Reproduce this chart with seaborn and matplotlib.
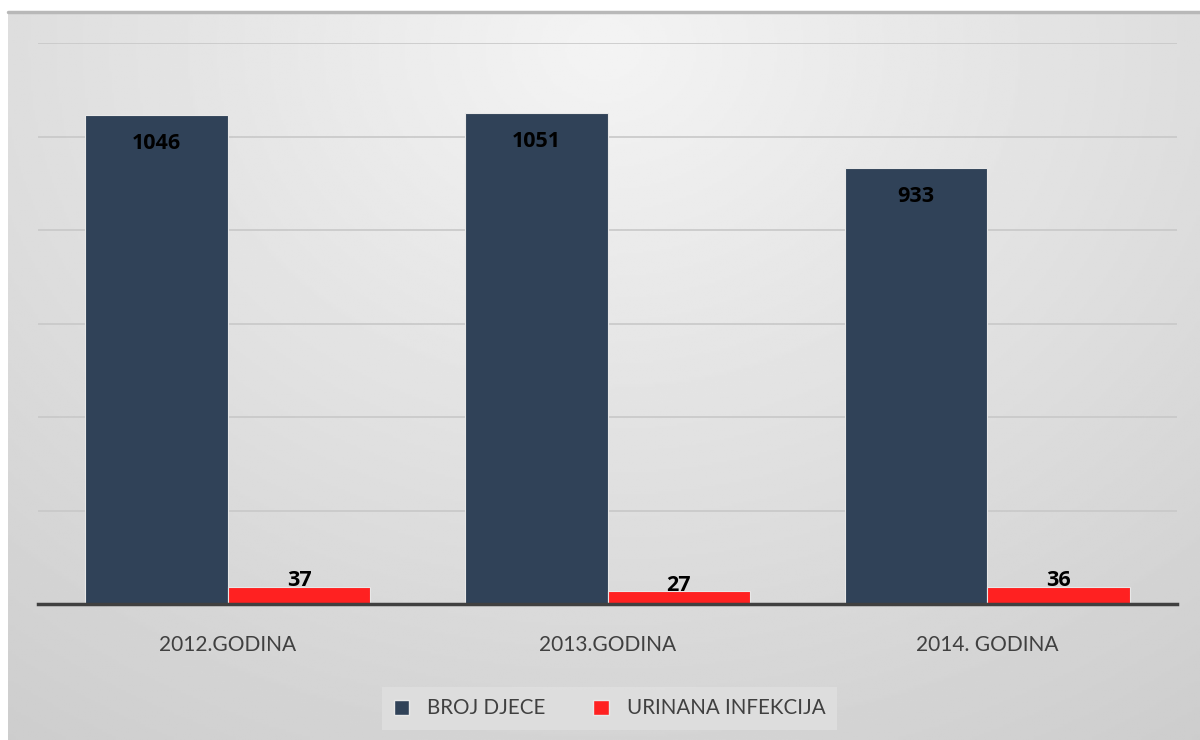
import numpy as np
import pandas as pd
import seaborn as sns
import matplotlib.pyplot as plt
from matplotlib.patches import Patch

categories = ["2012.GODINA", "2013.GODINA", "2014. GODINA"]
series = ["BROJ DJECE", "URINANA INFEKCIJA"]
broj_djece = [1046, 1051, 933]
urinana_infekcija = [37, 27, 36]

df = pd.DataFrame({
    "godina": categories * 2,
    "serija": [series[0]] * 3 + [series[1]] * 3,
    "vrijednost": broj_djece + urinana_infekcija,
})

colors = {series[0]: "#304258", series[1]: "#ff2121"}

sns.set_theme(style="white")
plt.rcParams["font.family"] = ["Lato", "DejaVu Sans"]

fig = plt.figure(figsize=(12, 7.4), dpi=100)
fig.patch.set_facecolor("white")

# radial grey gradient background
bg = fig.add_axes([8 / 1200, 0, 1 - 8 / 1200, (740 - 12) / 740], zorder=-10)
yy, xx = np.mgrid[0:1:300j, 0:1:500j]
r = np.sqrt(((xx - 0.5) / 0.75) ** 2 + ((yy - 0.05) / 1.0) ** 2)
shade = 0.955 - 0.13 * np.clip(r, 0, 1.2)
bg.imshow(shade, cmap="gray", vmin=0, vmax=1, aspect="auto", extent=[0, 1, 0, 1], origin="upper")
bg.set_axis_off()
fig.add_artist(plt.Line2D([8 / 1200, 1], [1 - 12 / 740] * 2, color="#b8b8b8", lw=2.5,
                          transform=fig.transFigure))

ax = fig.add_axes([38 / 1200, (740 - 604) / 740, (1177 - 38) / 1200, (604 - 43) / 740])
ax.set_facecolor("none")
sns.barplot(data=df, x="godina", y="vrijednost", hue="serija", palette=colors, saturation=1,
            width=0.75, edgecolor="#e8e8e8", linewidth=0.8, ax=ax, legend=False, zorder=3)

ax.set_ylim(0, 1200)
ax.set_yticks(np.arange(0, 1201, 200))
ax.yaxis.grid(True, color="#c8c8c8", linewidth=1.2)
ax.set_axisbelow(True)
ax.tick_params(axis="y", left=False, labelleft=False)
ax.tick_params(axis="x", bottom=False, labelsize=15, labelcolor="#404040", pad=16)
for s in ["top", "right", "left"]:
    ax.spines[s].set_visible(False)
ax.spines["bottom"].set_color("#404040")
ax.spines["bottom"].set_linewidth(2.5)
ax.spines["bottom"].set_zorder(5)
ax.set_xlabel("")
ax.set_ylabel("")

lab_font = dict(fontsize=15.5, fontweight="bold", color="black", family=["Open Sans", "DejaVu Sans"])
ax.bar_label(ax.containers[0], padding=-28, **lab_font)
ax.bar_label(ax.containers[1], padding=-3, **lab_font)

handles = [Patch(facecolor=colors[s], edgecolor="#e8e8e8") for s in series]
leg = fig.legend(handles, series, loc="lower center", bbox_to_anchor=(0.508, 0.0), ncol=2,
                 frameon=True, fontsize=14.8, handlelength=0.75, handleheight=0.75,
                 columnspacing=2.3, borderpad=0.55, handletextpad=0.9, fancybox=False)
leg.get_frame().set_facecolor("#e0e0e0")
leg.get_frame().set_edgecolor("none")
for t in leg.get_texts():
    t.set_color("#404040")

fig.savefig("out.png", dpi=100)
